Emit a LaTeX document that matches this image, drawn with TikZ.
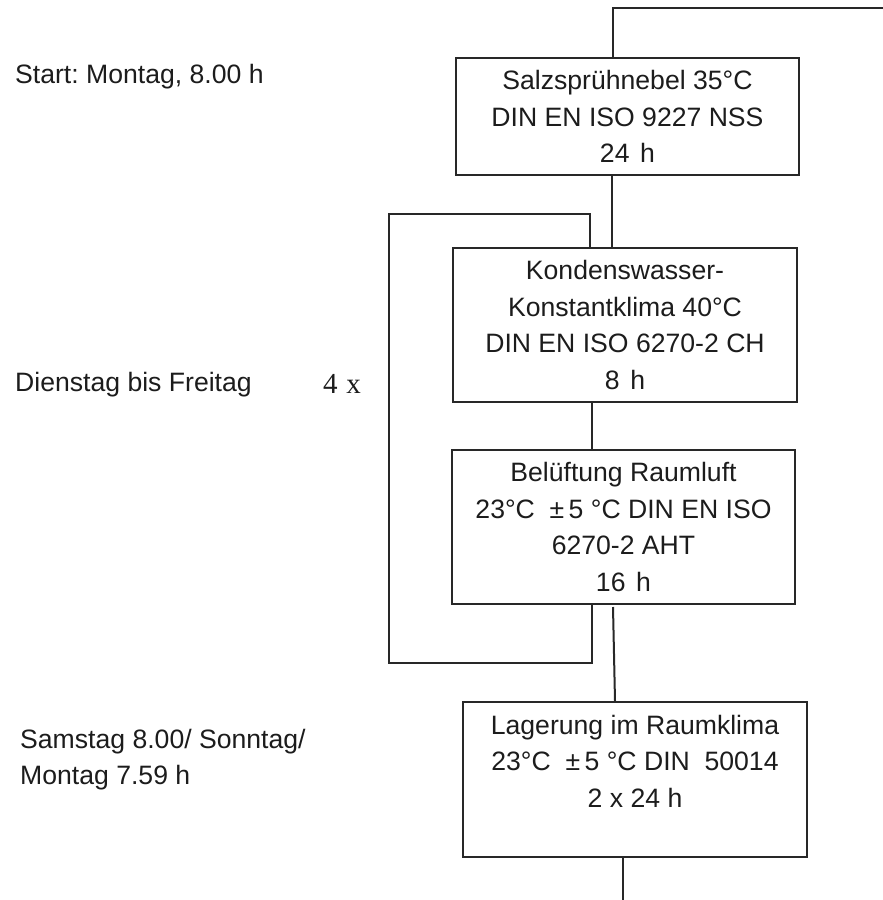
\documentclass[tikz,border=0pt]{standalone}
\usepackage{fontspec}
\setmainfont{Liberation Sans}
\newfontfamily\serifx{Liberation Serif}
\definecolor{lc}{RGB}{40,40,40}
\definecolor{tc}{RGB}{28,28,28}
\frenchspacing
\begin{document}
\begin{tikzpicture}[x=1pt,y=-1pt,
  box/.style={draw=lc, line width=2pt, align=center, inner sep=0pt,
    text=tc, font=\fontsize{26.6}{36.7}\selectfont, minimum width=343pt, minimum height=154pt},
  ln/.style={draw=lc, line width=2pt},
  lbl/.style={inner sep=0pt, text=tc, font=\fontsize{26.6}{36}\selectfont, align=left}]
\useasboundingbox (0,0) rectangle (883,900);

% boxes
\node[box, minimum height=117pt] (b1) at (627.5,116.5)
  {Salzsprühnebel 35°C\\DIN EN ISO 9227 NSS\\24\hspace{0.4em}h};
\node[box, minimum width=344pt] (b2) at (625,325)
  {Kondenswasser-\\Konstantklima 40°C\\DIN EN ISO 6270-2 CH\\8\hspace{0.4em}h};
\node[box] (b3) at (623.5,527)
  {Belüftung Raumluft\\23°C\ \ ±\,5 °C DIN EN ISO\\6270-2 AHT\\16\hspace{0.4em}h};
\node[box, minimum width=344pt, minimum height=155pt] (b4) at (635,779.5)
  {Lagerung im Raumklima\\23°C\ \ ±\,5 °C DIN\ \ 50014\\2 x 24 h\\\mbox{}};

% left labels
\node[lbl, anchor=base west] (start) at (15,83) {Start: Montag, 8.00 h};
\node[lbl, anchor=base west] (week) at (15,391) {Dienstag bis Freitag};
\node[lbl, anchor=base west, font=\serifx\fontsize{29}{34}\selectfont] (rep) at (323,393) {4\hspace{0.3em}x};
\node[lbl, anchor=north west] (wkend) at (20,728.6) {Samstag 8.00/ Sonntag/\\Montag 7.59 h};

% connector coordinates
\coordinate (tl) at (613,8);
\coordinate (tr) at (883,8);
\coordinate (c12) at (612,0);
\coordinate (l1) at (590,214);
\coordinate (l2) at (389,214);
\coordinate (l3) at (389,663);
\coordinate (l4) at (592,663);
\coordinate (c34a) at (613,607);
\coordinate (c34b) at (615,0);
\coordinate (cb) at (623,900);

% connectors
\draw[ln] (tl |- b1.north) -- (tl) -- (tr);
\draw[ln] (c12 |- b1.south) -- (c12 |- b2.north);
\draw[ln] (l1 |- b2.north) -- (l1) -- (l2) -- (l3) -- (l4) -- (l4 |- b3.south);
\draw[ln] (l4 |- b2.south) -- (l4 |- b3.north);
\draw[ln] (c34a) -- (c34b |- b4.north);
\draw[ln] (cb |- b4.south) -- (cb);
\end{tikzpicture}
\end{document}
